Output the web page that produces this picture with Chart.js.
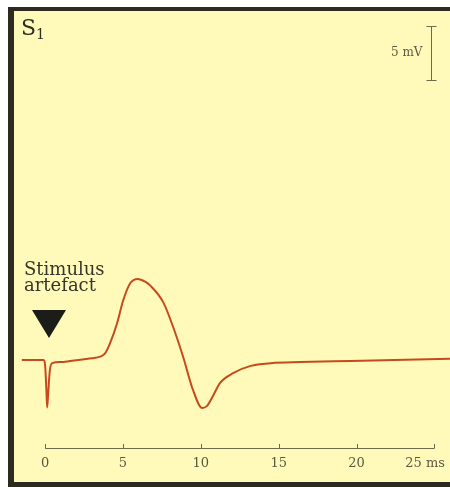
<!DOCTYPE html>
<html>
<head>
<meta charset="utf-8">
<script src="https://cdn.jsdelivr.net/npm/chart.js@4.4.1/dist/chart.umd.min.js"></script>
<style>
  html, body { margin: 0; padding: 0; background: #fff; }
  #wrap { width: 450px; height: 487px; }
</style>
</head>
<body>
<div id="wrap"><canvas id="myChart" width="450" height="487"></canvas></div>

<script>
const timeMs = [-1.5, -0.5, -0.1, 0.0, 0.08, 0.13, 0.2, 0.3, 0.45, 1.0, 1.6, 2.4, 3.0, 3.53, 3.85,
  4.17, 4.62, 5.01, 5.46, 5.95, 6.42, 6.74, 7.58, 8.22, 8.86, 9.5,
  10.08, 10.4, 10.75, 11.25, 12.1, 13.2, 14.5, 16.4, 19.6, 26.0];
const voltageMv = [0, 0, 0, -0.5, -2.8, -4.4, -3.0, -1.0, -0.3, -0.2, -0.1, 0.05, 0.15, 0.3, 0.6,
  1.55, 3.4, 5.5, 7.1, 7.5, 7.25, 6.9, 5.35, 3.05, 0.3, -2.8,
  -4.45, -4.25, -3.4, -2.1, -1.2, -0.55, -0.3, -0.2, -0.1, 0.1];

const timeTicks = [0, 5, 10, 15, 20, 25];
const tickLabels = ['0', '5', '10', '15', '20', '25 ms'];

const scaleBarMv = 5;      // calibration bar
const scaleBarTopMv = 30.9;
const scaleBarLabel = '5 mV';
const stimulusLabel = ['Stimulus', 'artefact'];
const panelTitle = 'S';
const panelSub = '1';

const data = {
  datasets: [{
    data: timeMs.map((t, i) => ({x: t, y: voltageMv[i]})),
    borderColor: '#c64a1d',
    borderWidth: 2,
    pointRadius: 0,
    cubicInterpolationMode: 'monotone',
    fill: false
  }]
};

const frame = {
  id: 'frame',
  beforeDraw(chart) {
    const c = chart.ctx;
    c.save();
    c.fillStyle = '#ffffff';
    c.fillRect(0, 0, 450, 487);
    c.fillStyle = '#2b2b1f';
    c.fillRect(8, 7, 442, 480);
    c.fillStyle = '#fffab9';
    c.fillRect(14, 11, 436, 471);
    c.restore();
  },
  afterDraw(chart) {
    const c = chart.ctx;
    const xs = chart.scales.x, ys = chart.scales.y;
    const axisY = chart.chartArea.bottom;
    c.save();
    // time axis
    c.strokeStyle = '#6e6a4c';
    c.lineWidth = 1;
    c.beginPath();
    c.moveTo(xs.getPixelForValue(timeTicks[0]), axisY + 0.5);
    c.lineTo(xs.getPixelForValue(timeTicks[timeTicks.length - 1]), axisY + 0.5);
    timeTicks.forEach(t => {
      const px = Math.round(xs.getPixelForValue(t)) + 0.5;
      c.moveTo(px, axisY + 0.5);
      c.lineTo(px, axisY - 4);
    });
    c.stroke();
    c.fillStyle = '#5c5840';
    c.font = '13px "DejaVu Serif"';
    c.textBaseline = 'middle';
    timeTicks.forEach((t, i) => {
      const px = xs.getPixelForValue(t);
      if (i === timeTicks.length - 1) {
        c.textAlign = 'right';
        c.fillText(tickLabels[i], 445, axisY + 16);
      } else {
        c.textAlign = 'center';
        c.fillText(tickLabels[i], px, axisY + 16);
      }
    });

    // calibration bar
    const barX = 431.5;
    const y0 = Math.round(ys.getPixelForValue(scaleBarTopMv));
    const y1 = Math.round(ys.getPixelForValue(scaleBarTopMv - scaleBarMv));
    c.strokeStyle = '#6e6a4c';
    c.beginPath();
    c.moveTo(barX, y0); c.lineTo(barX, y1);
    c.moveTo(barX - 5, y0 + 0.5); c.lineTo(barX + 5, y0 + 0.5);
    c.moveTo(barX - 5, y1 + 0.5); c.lineTo(barX + 5, y1 + 0.5);
    c.stroke();
    c.font = '12px "DejaVu Serif"';
    c.textAlign = 'right';
    c.fillText(scaleBarLabel, barX - 9, (y0 + y1) / 2);

    // panel title
    c.fillStyle = '#2e2e22';
    c.textAlign = 'left';
    c.textBaseline = 'alphabetic';
    c.font = '22px "DejaVu Serif"';
    c.fillText(panelTitle, 21, 35);
    c.font = '14px "DejaVu Serif"';
    c.fillText(panelSub, 36, 39);

    // stimulus marker
    c.fillStyle = '#36362a';
    c.font = '18px "DejaVu Serif"';
    c.fillText(stimulusLabel[0], 24, 275);
    c.fillText(stimulusLabel[1], 24, 291);
    const sx = 49;
    c.fillStyle = '#1c1c18';
    c.beginPath();
    c.moveTo(sx - 17, 310);
    c.lineTo(sx + 17, 310);
    c.lineTo(sx, 338);
    c.closePath();
    c.fill();
    c.restore();
  }
};

const config = {
  type: 'line',
  data: data,
  options: {
    responsive: false,
    animation: false,
    layout: { padding: { left: 14, right: 0, top: 12, bottom: 39 } },
    plugins: { legend: { display: false }, tooltip: { enabled: false } },
    scales: {
      x: { type: 'linear', min: -2, max: 26, display: false },
      y: { min: -8.15, max: 32.2, display: false }
    }
  },
  plugins: [frame]
};

var myChart = new Chart(
  document.getElementById('myChart'),
  config
);
</script>
</body>
</html>
